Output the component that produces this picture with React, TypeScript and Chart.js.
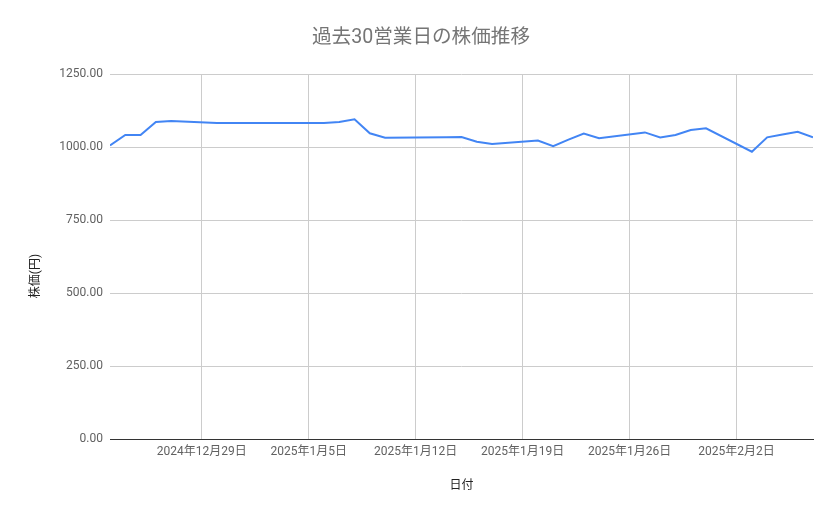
import { useRef, useEffect } from 'react'
import { Chart, registerables } from 'chart.js'

Chart.register(...registerables)

// 30 business days (TSE closed Dec 31 – Jan 3, Jan 13)
const DATES = [
  '2024-12-23', '2024-12-24', '2024-12-25', '2024-12-26', '2024-12-27', '2024-12-30',
  '2025-01-06', '2025-01-07', '2025-01-08', '2025-01-09', '2025-01-10',
  '2025-01-14', '2025-01-15', '2025-01-16', '2025-01-17',
  '2025-01-20', '2025-01-21', '2025-01-22', '2025-01-23', '2025-01-24',
  '2025-01-27', '2025-01-28', '2025-01-29', '2025-01-30', '2025-01-31',
  '2025-02-03', '2025-02-04', '2025-02-05', '2025-02-06', '2025-02-07',
]

const PRICES = [
  1005, 1041, 1041, 1086, 1089, 1082,
  1082, 1086, 1095, 1047, 1032,
  1033, 1034, 1018, 1010,
  1022, 1003, 1025, 1046, 1030,
  1050, 1033, 1041, 1058, 1064,
  984, 1033, 1043, 1052, 1033,
]

const TICK_DATES = ['2024-12-29', '2025-01-05', '2025-01-12', '2025-01-19', '2025-01-26', '2025-02-02']
const TICK_LABELS = ['2024年12月29日', '2025年1月5日', '2025年1月12日', '2025年1月19日', '2025年1月26日', '2025年2月2日']

const TITLE = '過去30営業日の株価推移'
const X_TITLE = '日付'
const Y_TITLE = '株価(円)'

const FONT = 'Roboto, "Noto Sans CJK JP", sans-serif'

const dayNum = (s: string) => Date.parse(s + 'T00:00:00Z') / 86400000

// title + axis titles drawn at fixed spots to match the sheet layout
const sheetTexts = {
  id: 'sheetTexts',
  afterDraw(chart: Chart) {
    const ctx = chart.ctx
    ctx.save()
    ctx.textAlign = 'center'
    ctx.textBaseline = 'middle'

    ctx.fillStyle = '#757575'
    ctx.font = `19.6px ${FONT}`
    ctx.fillText(TITLE, 421, 38)

    ctx.fillStyle = '#222222'
    ctx.font = `12px ${FONT}`
    ctx.fillText(X_TITLE, (chart.chartArea.left + chart.chartArea.right) / 2, 486)
    ctx.translate(36, 276)
    ctx.rotate(-Math.PI / 2)
    ctx.fillText(Y_TITLE, 0, 0)
    ctx.restore()
  },
}

export default function App() {
  const canvasRef = useRef<HTMLCanvasElement>(null)
  const chartRef = useRef<Chart | null>(null)

  useEffect(() => {
    if (!canvasRef.current) return
    if (chartRef.current) chartRef.current.destroy()

    chartRef.current = new Chart(canvasRef.current, {
      type: 'line',
      data: {
        datasets: [{
          data: DATES.map((d, i) => ({ x: dayNum(d), y: PRICES[i] })),
          borderColor: '#4285f4',
          borderWidth: 2,
          pointRadius: 0,
          tension: 0,
          fill: false,
        }],
      },
      options: {
        responsive: false,
        animation: false,
        layout: { padding: { left: 0, right: 26, top: 74, bottom: 0 } },
        plugins: {
          legend: { display: false },
          tooltip: { enabled: false },
          title: { display: false },
        },
        scales: {
          x: {
            type: 'linear',
            min: dayNum(DATES[0]),
            max: dayNum(DATES[DATES.length - 1]),
            afterBuildTicks: (s: any) => {
              s.ticks = TICK_DATES.map(d => ({ value: dayNum(d) }))
            },
            afterFit: (s: any) => { s.height = 80 },
            ticks: {
              autoSkip: false,
              maxRotation: 0,
              padding: 6,
              color: '#616161',
              font: { family: FONT, size: 12 },
              callback: (_v: any, i: number) => TICK_LABELS[i],
            },
            grid: { color: '#cccccc', drawTicks: false },
            border: { color: '#333333', width: 1 },
          },
          y: {
            min: 0,
            max: 1250,
            afterFit: (s: any) => { s.width = 110 },
            ticks: {
              stepSize: 250,
              padding: 7,
              color: '#616161',
              font: { family: FONT, size: 12 },
              callback: (v: any) => Number(v).toFixed(2),
            },
            grid: { color: '#cccccc', drawTicks: false },
            border: { display: false },
          },
        },
      },
      plugins: [sheetTexts],
    })

    return () => { chartRef.current?.destroy() }
  }, [])

  return (
    <div style={{ position: 'absolute', left: 0, top: 0, width: 839, height: 519, background: '#ffffff' }}>
      <canvas ref={canvasRef} width={839} height={519} style={{ display: 'block' }} />
    </div>
  )
}
